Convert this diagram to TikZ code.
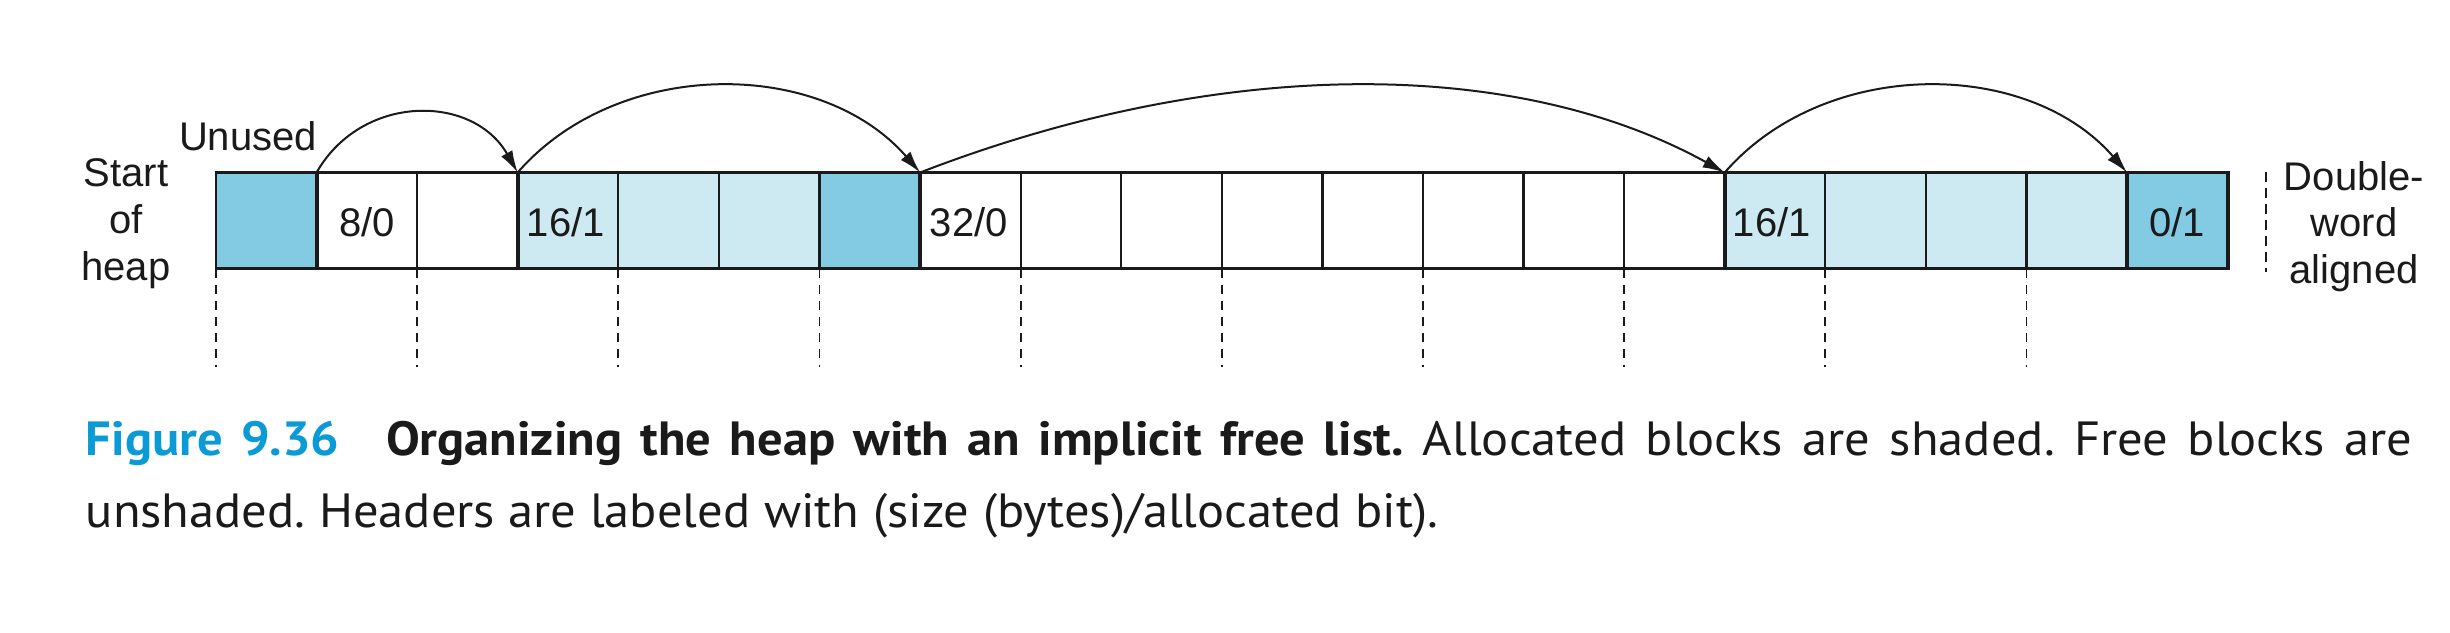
\documentclass[tikz,border=0pt]{standalone}
\usepackage{graphicx}
\usepackage{fontspec}
\usetikzlibrary{arrows.meta}
\setmainfont{Liberation Sans}
\newfontfamily\capfont{PT Sans}
\definecolor{darkcell}{HTML}{82CBE3}
\definecolor{lightcell}{HTML}{CDE9F2}
\definecolor{figblue}{HTML}{0A9AD6}
\definecolor{ink}{HTML}{1A1A1A}
\newsavebox\capbox
\newlength\capnat
\newcommand\captwotext{unshaded. Headers are labeled with (size (bytes)/allocated bit).}
\tikzset{
  lbl/.style={font=\fontsize{10pt}{12pt}\selectfont, text=ink, inner sep=0pt, anchor=base},
  hdr/.style={lbl, anchor=base west},
  thinline/.style={draw=ink, line width=0.55pt},
  thickline/.style={draw=ink, line width=0.95pt},
  guide/.style={draw=ink, line width=0.45pt, dash pattern=on 2.4pt off 1.6pt},
  arc/.style={draw=ink, line width=0.5pt, -{Latex[length=5.5pt,width=3.2pt]}},
  capline/.style={inner sep=0pt, anchor=base west, text=ink}
}
\begin{document}
\frenchspacing
\global\setbox\capbox=\hbox{\capfont\fontsize{12pt}{14pt}\selectfont\captwotext}%
\global\capnat=\wd\capbox
\xdef\capscale{\fpeval{338.2/\capnat}}%
\begin{tikzpicture}[x=0.25pt, y=-0.25pt]
\useasboundingbox (0,0) rectangle (2450,632);
% cell geometry
\def\cw{100.58}
\def\ytop{172.5}
\def\ybot{268.5}
% fills
\fill[darkcell] (216,\ytop) rectangle (316.6,\ybot);
\fill[white] (316.6,\ytop) rectangle (517.7,\ybot);
\fill[lightcell] (517.7,\ytop) rectangle (819.5,\ybot);
\fill[darkcell] (819.5,\ytop) rectangle (920.1,\ybot);
\fill[white] (920.1,\ytop) rectangle (1724.7,\ybot);
\fill[lightcell] (1724.7,\ytop) rectangle (2127,\ybot);
\fill[darkcell] (2127,\ytop) rectangle (2227.6,\ybot);
% thin cell lines
\draw[thinline] (216,\ytop) rectangle (316.6,\ybot);
\foreach \i in {1,...,19} {
  \draw[thinline] ({216+\i*\cw},\ytop) -- ({216+\i*\cw},\ybot);
}
% thick block outlines
\draw[thickline] (316.6,\ytop) rectangle (2227.6,\ybot);
\foreach \xx in {517.7,920.1,1724.7,2127} {
  \draw[thickline] (\xx,\ytop) -- (\xx,\ybot);
}
% double-word guides
\foreach \i in {0,2,...,18} {
  \draw[guide] ({216+\i*\cw},\ybot) -- ({216+\i*\cw},367);
}
\draw[guide] (2266,172) -- (2266,272);
% header labels
\node[lbl] (h1) at (367,236) {8/0};
\node[hdr] (h2) at (526,236) {16/1};
\node[hdr] (h3) at (929,236) {32/0};
\node[hdr] (h4) at (1732,236) {16/1};
\node[lbl] (h5) at (2177,236) {0/1};
% side labels
\node[lbl] (start1) at (126,186.7) {Start};
\node[lbl] (start2) at (126,233) {of};
\node[lbl] (start3) at (126,280) {heap};
\node[lbl] (unused) at (248,150) {Unused};
\node[lbl] (dw1) at (2354,190) {Double-};
\node[lbl] (dw2) at (2354,236.7) {word};
\node[lbl] (dw3) at (2354,283) {aligned};
% block header corners
\coordinate (c1) at (316.6,\ytop);
\coordinate (c2) at (517.7,\ytop);
\coordinate (c3) at (920.1,\ytop);
\coordinate (c4) at (1724.7,\ytop);
\coordinate (c5) at (2127,\ytop);
\draw[arc] (c1) .. controls +(45,-79) and +(-45,-79) .. (c2);
\draw[arc] (c2) .. controls +(100,-115) and +(-100,-115) .. (c3);
\draw[arc] (c3) .. controls +(300,-116) and +(-210,-116) .. (c4);
\draw[arc] (c4) .. controls +(100,-115) and +(-100,-115) .. (c5);
% caption
\node[capline] (cap1) at (85,455) {\scalebox{\capscale}[1]{\makebox[\fpeval{581.7/\capscale}pt][s]{\capfont\fontsize{12pt}{14pt}\selectfont\textcolor{figblue}{\bfseries Figure 9.36}\hspace*{\fpeval{11.6/\capscale}pt}{\bfseries Organizing the heap with an implicit free list.} Allocated blocks are shaded. Free blocks are}}};
\node[capline] (cap2) at (85,527.5) {\scalebox{\capscale}[1]{\capfont\fontsize{12pt}{14pt}\selectfont\captwotext}};
\end{tikzpicture}
\end{document}
